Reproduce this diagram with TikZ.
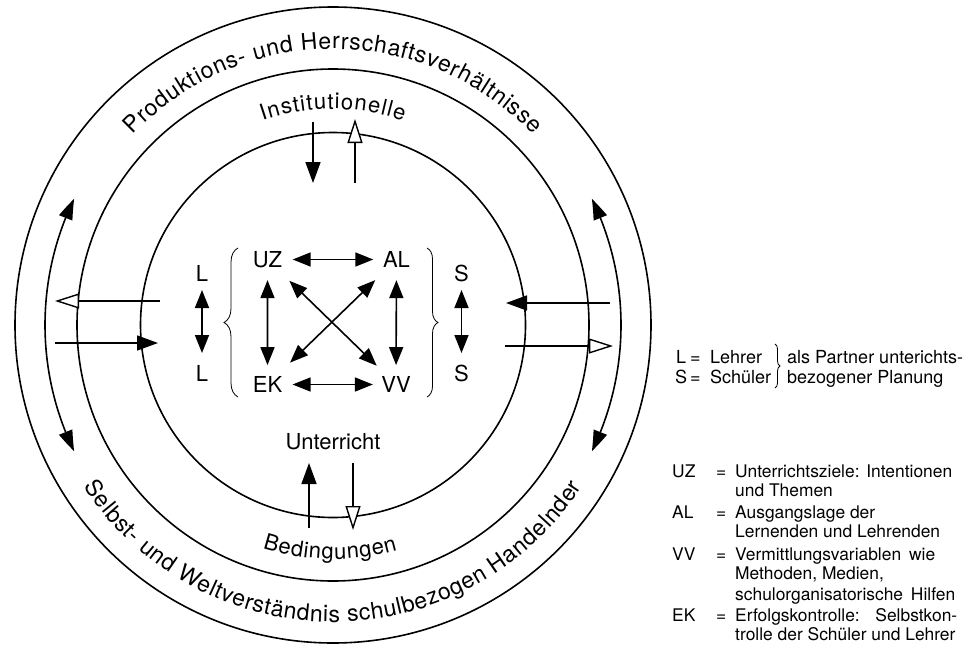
\documentclass[tikz,border=0pt]{standalone}
\usepackage{fontspec}
\setmainfont{TeX Gyre Heros}
\usetikzlibrary{arrows.meta,bending,decorations.text,decorations.pathreplacing,calc}
\begin{document}
\begin{tikzpicture}[x=1pt,y=1pt,
  ring/.style={line width=1.6pt},
  shaft/.style={line width=1.6pt},
  fhead/.style={-{Triangle[length=21pt,width=15pt]}},
  ohead/.style={-{Triangle[open,length=24pt,width=15pt,fill=white,line width=1.4pt]}},
  dbl/.style={line width=1.6pt,{Triangle[length=18pt,width=14pt]}-{Triangle[length=18pt,width=14pt]}},
  arcarrow/.style={line width=1.6pt,{Triangle[length=21pt,width=14pt,bend]}-{Triangle[length=21pt,width=14pt,bend]}},
  lbl/.style={inner sep=0pt,font=\fontsize{22}{26}\selectfont},
  leg/.style={inner sep=0pt,anchor=base west,font=\fontsize{17.4}{20}\selectfont},
  legb/.style={inner sep=0pt,anchor=base west,font=\fontsize{18}{22}\selectfont},
  brc/.style={line width=0.8pt,decorate,decoration={brace,amplitude=#1}},
  arctext/.style={decorate,decoration={text along path,text align={fit to path},text={#1}}},
]
\useasboundingbox (0,0) rectangle (973,-650);
\coordinate (c) at (333,-325);
% rings
\draw[ring] (c) circle[radius=192.5];
\draw[ring] (c) circle[radius=256];
\draw[ring] (c) circle[radius=318];
% curved double arrows
\draw[arcarrow] ($(c)+(154:288)$) arc[start angle=154,end angle=206,radius=288];
\draw[arcarrow] ($(c)+(-26:288)$) arc[start angle=-26,end angle=26,radius=288];
% curved texts
\path[arctext={|\fontsize{23}{27}\selectfont|Produktions- und Herrschaftsverhältnisse}]
  ($(c)+(136.5:276)$) arc[start angle=136.5,end angle=43.5,radius=276];
\path[arctext={|\fontsize{23}{27}\selectfont|Selbst- und Weltverständnis schulbezogen Handelnder}]
  ($(c)+(213:297)$) arc[start angle=213,end angle=327,radius=297];
\path[arctext={|\fontsize{22}{26}\selectfont|Institutionelle}]
  ($(c)+(109:216)$) arc[start angle=109,end angle=71,radius=216];
\path[arctext={|\fontsize{22}{26}\selectfont|Bedingungen}]
  ($(c)+(252.5:234)$) arc[start angle=252.5,end angle=286,radius=234];
% crossing arrows
\coordinate (t1a) at (313,-122); \coordinate (t1b) at (313,-183);
\coordinate (t2a) at (355,-183); \coordinate (t2b) at (355,-119);
\coordinate (b1a) at (309,-528); \coordinate (b1b) at (309,-463);
\coordinate (b2a) at (353,-463); \coordinate (b2b) at (353,-530);
\coordinate (l1a) at (160,-301); \coordinate (l1b) at (55,-301);
\coordinate (l2a) at (55,-343);  \coordinate (l2b) at (158,-343);
\coordinate (r1a) at (610,-303); \coordinate (r1b) at (506,-303);
\coordinate (r2a) at (505,-346); \coordinate (r2b) at (613,-346);
\draw[shaft,fhead] (t1a) -- (t1b);
\draw[shaft,ohead] (t2a) -- (t2b);
\draw[shaft,fhead] (b1a) -- (b1b);
\draw[shaft,ohead] (b2a) -- (b2b);
\draw[shaft,ohead] (l1a) -- (l1b);
\draw[shaft,fhead] (l2a) -- (l2b);
\draw[shaft,fhead] (r1a) -- (r1b);
\draw[shaft,ohead] (r2a) -- (r2b);
% central labels
\node[lbl] (UZ) at (267.5,-259.5) {UZ};
\node[lbl] (AL) at (396.5,-259.5) {AL};
\node[lbl] (EK) at (267.5,-384.5) {EK};
\node[lbl] (VV) at (396,-384.5) {VV};
\node[lbl] (L1) at (202,-273.5) {L};
\node[lbl] (L2) at (202,-373.5) {L};
\node[lbl] (S1) at (461.5,-273.5) {S};
\node[lbl] (S2) at (461.5,-373.5) {S};
\node[lbl,anchor=base] (U) at (333,-449) {Unterricht};
\draw[dbl] ($(UZ)!0.195!(AL)$) -- ($(UZ)!0.82!(AL)$);
\draw[dbl] ($(EK)!0.195!(VV)$) -- ($(EK)!0.82!(VV)$);
\draw[dbl] ($(UZ)!0.165!(EK)$) -- ($(UZ)!0.845!(EK)$);
\draw[dbl] ($(AL)!0.165!(VV)$) -- ($(AL)!0.845!(VV)$);
\draw[dbl] ($(UZ)!0.17!(VV)$) -- ($(UZ)!0.85!(VV)$);
\draw[dbl] ($(EK)!0.175!(AL)$) -- ($(EK)!0.835!(AL)$);
\draw[dbl] ($(L1)!0.165!(L2)$) -- ($(L1)!0.795!(L2)$);
\draw[dbl] ($(S1)!0.165!(S2)$) -- ($(S1)!0.795!(S2)$);
% braces
\draw[brc=14pt] (238,-397) -- (238,-248);
\draw[brc=11pt] (427,-248) -- (427,-397);
% legend top
\node[legb] (Lk) at (676,-363) {L};
\node[legb] (Le) at (690,-363) {=};
\node[legb] (Lt) at (710,-363) {Lehrer};
\node[legb] (Sk) at (675,-383) {S};
\node[legb] (Se) at (690,-383) {=};
\node[legb] (St) at (710,-383) {Schüler};
\draw[brc=5pt] (775,-344) -- (775,-388);
\node[legb] (P1) at (787,-363) {als Partner unterichts-};
\node[legb] (P2) at (787,-383) {bezogener Planung};
% legend bottom
\node[leg] (k1) at (672,-477) {UZ};
\node[leg] (e1) at (716,-477) {=};
\node[leg] (d1) at (735,-477) {\makebox[217pt][s]{Unterrichtsziele: Intentionen}};
\node[leg] (d1b) at (735,-496) {und Themen};
\node[leg] (k2) at (672,-518) {AL};
\node[leg] (e2) at (716,-518) {=};
\node[leg] (d2) at (735,-518) {Ausgangslage der};
\node[leg] (d2b) at (735,-537) {Lernenden und Lehrenden};
\node[leg] (k3) at (672,-560) {VV};
\node[leg] (e3) at (716,-560) {=};
\node[leg] (d3) at (735,-560) {\makebox[200pt][s]{Vermittlungsvariablen wie}};
\node[leg] (d3b) at (735,-579) {Methoden, Medien,};
\node[leg] (d3c) at (735,-600) {\makebox[220pt][s]{schulorganisatorische Hilfen}};
\node[leg] (k4) at (672,-621) {EK};
\node[leg] (e4) at (716,-621) {=};
\node[leg] (d4) at (735,-621) {\makebox[222pt][s]{Erfolgskontrolle: Selbstkon-}};
\node[leg] (d4b) at (735,-640) {trolle der Schüler und Lehrer};
\end{tikzpicture}
\end{document}
